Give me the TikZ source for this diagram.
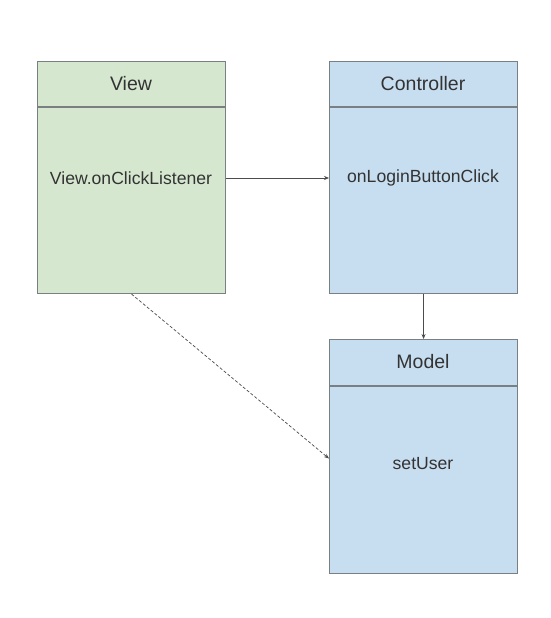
\documentclass[tikz,border=0pt]{standalone}
\usepackage{fontspec}
\setmainfont{Liberation Sans}
\usetikzlibrary{arrows.meta}
\definecolor{vgreen}{HTML}{D5E8CF}
\definecolor{cblue}{HTML}{C7DDF0}
\definecolor{bord}{HTML}{7A7F84}
\tikzset{
  classbox/.style={draw=bord, line width=1.1pt, minimum width=188pt, inner sep=0pt, anchor=north west},
  hdr/.style={font=\fontsize{19.5}{22}\selectfont, text=black!80},
  bodytxt/.style={font=\fontsize{17.6}{20}\selectfont, text=black!80},
  conn/.style={draw=black!70, line width=0.7pt, -{Stealth[length=5pt,width=4pt]}}
}
\begin{document}
\begin{tikzpicture}[x=1pt,y=-1pt]
\useasboundingbox[fill=white] (0,0) rectangle (550,618);
% View
\node[classbox, fill=vgreen, minimum height=232pt] (view) at (37,61) {};
\draw[draw=bord, line width=1.1pt] (37,107) -- (225,107);
\node[hdr] (viewt) at (131,84) {View};
\node[bodytxt] (viewb) at (131,178) {View.onClickListener};
% Controller
\node[classbox, fill=cblue, minimum height=232pt] (ctrl) at (329,61) {};
\draw[draw=bord, line width=1.1pt] (329,107) -- (517,107);
\node[hdr] (ctrlt) at (423,84) {Controller};
\node[bodytxt] (ctrlb) at (423,178) {onLoginButtonClick};
% Model
\node[classbox, fill=cblue, minimum height=234pt] (model) at (329,339) {};
\draw[draw=bord, line width=1.1pt] (329,386) -- (517,386);
\node[hdr] (modelt) at (423,362) {Model};
\node[bodytxt] (modelb) at (423,464) {setUser};
% connectors
\draw[conn] (view.east |- viewb) -- (ctrl.west |- ctrlb);
\draw[conn] (ctrl.south) -- (model.north);
\draw[conn, dashed, dash pattern=on 3pt off 2pt] (view.south) -- ([yshift=-2pt]model.west);
\end{tikzpicture}
\end{document}
